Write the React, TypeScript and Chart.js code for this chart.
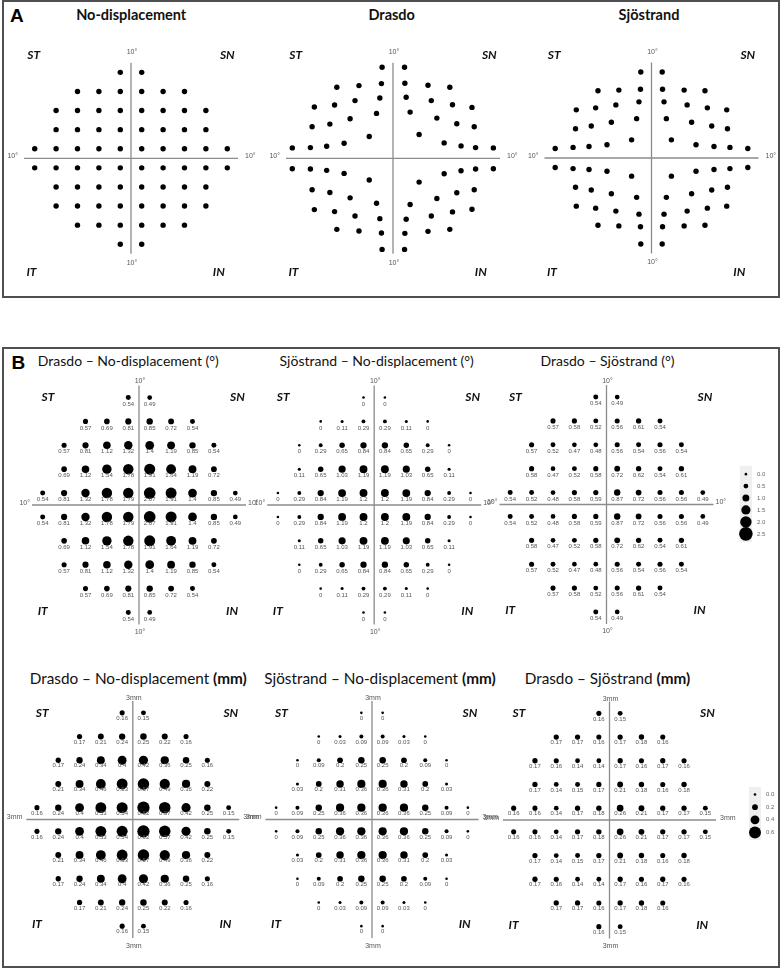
import React, { useEffect, useRef } from "react";
import { Chart, registerables } from "chart.js";

Chart.register(...registerables);

// ---------- DATA ----------
// 10-2 test grid locations (degrees), rows top→bottom, left→right
const GRID_X = [
  -1, 1,
  -5, -3, -1, 1, 3, 5,
  -7, -5, -3, -1, 1, 3, 5, 7,
  -7, -5, -3, -1, 1, 3, 5, 7,
  -9, -7, -5, -3, -1, 1, 3, 5, 7, 9,
  -9, -7, -5, -3, -1, 1, 3, 5, 7, 9,
  -7, -5, -3, -1, 1, 3, 5, 7,
  -7, -5, -3, -1, 1, 3, 5, 7,
  -5, -3, -1, 1, 3, 5,
  -1, 1,
];
const GRID_Y = [
  9, 9,
  7, 7, 7, 7, 7, 7,
  5, 5, 5, 5, 5, 5, 5, 5,
  3, 3, 3, 3, 3, 3, 3, 3,
  1, 1, 1, 1, 1, 1, 1, 1, 1, 1,
  -1, -1, -1, -1, -1, -1, -1, -1, -1, -1,
  -3, -3, -3, -3, -3, -3, -3, -3,
  -5, -5, -5, -5, -5, -5, -5, -5,
  -7, -7, -7, -7, -7, -7,
  -9, -9,
];

// Drasdo-displaced locations (degrees)
const DRASDO_X = [
  -1.02, 1.08,
  -5.25, -3.18, -1.08, 1.11, 3.27, 5.31,
  -7.35, -5.46, -3.55, -1.23, 1.23, 3.58, 5.56, 7.38,
  -7.56, -5.9, -4.01, -1.54, 1.6, 4.1, 5.96, 7.59,
  -9.41, -7.72, -6.2, -4.57, -2.22, 2.44, 4.78, 6.36, 7.72, 9.38,
  -9.41, -7.72, -6.2, -4.57, -2.22, 2.44, 4.78, 6.36, 7.72, 9.38,
  -7.56, -5.9, -4.01, -1.54, 1.6, 4.1, 5.96, 7.59,
  -7.35, -5.46, -3.55, -1.23, 1.23, 3.58, 5.56, 7.38,
  -5.25, -3.18, -1.08, 1.11, 3.27, 5.31,
  -1.02, 1.08,
];
const DRASDO_Y = [
  9.54, 9.54,
  7.44, 7.61, 7.82, 7.86, 7.65, 7.44,
  5.37, 5.58, 6.04, 6.32, 6.39, 6.04, 5.61, 5.33,
  3.3, 3.58, 4.14, 4.7, 4.84, 4.21, 3.61, 3.3,
  1.09, 1.12, 1.26, 1.58, 2.28, 2.49, 1.61, 1.3, 1.12, 1.09,
  -1.09, -1.12, -1.26, -1.58, -2.28, -2.49, -1.61, -1.3, -1.12, -1.09,
  -3.3, -3.58, -4.14, -4.7, -4.84, -4.21, -3.61, -3.3,
  -5.37, -5.58, -6.04, -6.32, -6.39, -6.04, -5.61, -5.33,
  -7.44, -7.61, -7.82, -7.86, -7.65, -7.44,
  -9.54, -9.54,
];

// Sjöstrand-displaced locations (degrees)
const SJOSTRAND_X = [
  -1.0, 1.0,
  -5.0, -3.05, -1.03, 1.03, 3.05, 5.0,
  -7.03, -5.22, -3.33, -1.17, 1.17, 3.33, 5.22, 7.03,
  -7.1, -5.63, -3.75, -1.39, 1.39, 3.75, 5.63, 7.1,
  -9.0, -7.33, -5.84, -4.16, -1.86, 1.86, 4.16, 5.84, 7.33, 9.0,
  -9.0, -7.33, -5.84, -4.16, -1.86, 1.86, 4.16, 5.84, 7.33, 9.0,
  -7.1, -5.63, -3.75, -1.39, 1.39, 3.75, 5.63, 7.1,
  -7.03, -5.22, -3.33, -1.17, 1.17, 3.33, 5.22, 7.03,
  -5.0, -3.05, -1.03, 1.03, 3.05, 5.0,
  -1.0, 1.0,
];
const SJOSTRAND_Y = [
  9.0, 9.0,
  7.04, 7.11, 7.2, 7.2, 7.11, 7.04,
  5.04, 5.25, 5.56, 5.88, 5.88, 5.56, 5.25, 5.04,
  3.07, 3.35, 3.74, 4.12, 4.12, 3.74, 3.35, 3.07,
  1.0, 1.11, 1.21, 1.39, 1.9, 1.9, 1.39, 1.21, 1.11, 1.0,
  -1.0, -1.11, -1.21, -1.39, -1.9, -1.9, -1.39, -1.21, -1.11, -1.0,
  -3.07, -3.35, -3.74, -4.12, -4.12, -3.74, -3.35, -3.07,
  -5.04, -5.25, -5.56, -5.88, -5.88, -5.56, -5.25, -5.04,
  -7.04, -7.11, -7.2, -7.2, -7.11, -7.04,
  -9.0, -9.0,
];

// Displacement differences (degrees)
const DRASDO_VS_NONE_DEG = [
  0.54, 0.49,
  0.57, 0.69, 0.81, 0.85, 0.72, 0.54,
  0.57, 0.81, 1.12, 1.32, 1.4, 1.19, 0.85, 0.54,
  0.69, 1.12, 1.54, 1.78, 1.91, 1.64, 1.19, 0.72,
  0.54, 0.81, 1.32, 1.78, 1.79, 2.07, 1.91, 1.4, 0.85, 0.49,
  0.54, 0.81, 1.32, 1.78, 1.79, 2.07, 1.91, 1.4, 0.85, 0.49,
  0.69, 1.12, 1.54, 1.78, 1.91, 1.64, 1.19, 0.72,
  0.57, 0.81, 1.12, 1.32, 1.4, 1.19, 0.85, 0.54,
  0.57, 0.69, 0.81, 0.85, 0.72, 0.54,
  0.54, 0.49,
];
const SJOSTRAND_VS_NONE_DEG = [
  0, 0,
  0, 0.11, 0.29, 0.29, 0.11, 0,
  0, 0.29, 0.65, 0.84, 0.84, 0.65, 0.29, 0,
  0.11, 0.65, 1.03, 1.19, 1.19, 1.03, 0.65, 0.11,
  0, 0.29, 0.84, 1.19, 1.2, 1.2, 1.19, 0.84, 0.29, 0,
  0, 0.29, 0.84, 1.19, 1.2, 1.2, 1.19, 0.84, 0.29, 0,
  0.11, 0.65, 1.03, 1.19, 1.19, 1.03, 0.65, 0.11,
  0, 0.29, 0.65, 0.84, 0.84, 0.65, 0.29, 0,
  0, 0.11, 0.29, 0.29, 0.11, 0,
  0, 0,
];
const DRASDO_VS_SJOSTRAND_DEG = [
  0.54, 0.49,
  0.57, 0.58, 0.52, 0.56, 0.61, 0.54,
  0.57, 0.52, 0.47, 0.48, 0.56, 0.54, 0.56, 0.54,
  0.58, 0.47, 0.52, 0.58, 0.72, 0.62, 0.54, 0.61,
  0.54, 0.52, 0.48, 0.58, 0.59, 0.87, 0.72, 0.56, 0.56, 0.49,
  0.54, 0.52, 0.48, 0.58, 0.59, 0.87, 0.72, 0.56, 0.56, 0.49,
  0.58, 0.47, 0.52, 0.58, 0.72, 0.62, 0.54, 0.61,
  0.57, 0.52, 0.47, 0.48, 0.56, 0.54, 0.56, 0.54,
  0.57, 0.58, 0.52, 0.56, 0.61, 0.54,
  0.54, 0.49,
];

// Displacement differences (mm)
const DRASDO_VS_NONE_MM = [
  0.16, 0.15,
  0.17, 0.21, 0.24, 0.25, 0.22, 0.16,
  0.17, 0.24, 0.34, 0.4, 0.42, 0.36, 0.25, 0.16,
  0.21, 0.34, 0.46, 0.53, 0.57, 0.49, 0.36, 0.22,
  0.16, 0.24, 0.4, 0.53, 0.54, 0.62, 0.57, 0.42, 0.25, 0.15,
  0.16, 0.24, 0.4, 0.53, 0.54, 0.62, 0.57, 0.42, 0.25, 0.15,
  0.21, 0.34, 0.46, 0.53, 0.57, 0.49, 0.36, 0.22,
  0.17, 0.24, 0.34, 0.4, 0.42, 0.36, 0.25, 0.16,
  0.17, 0.21, 0.24, 0.25, 0.22, 0.16,
  0.16, 0.15,
];
const SJOSTRAND_VS_NONE_MM = [
  0, 0,
  0, 0.03, 0.09, 0.09, 0.03, 0,
  0, 0.09, 0.2, 0.25, 0.25, 0.2, 0.09, 0,
  0.03, 0.2, 0.31, 0.36, 0.36, 0.31, 0.2, 0.03,
  0, 0.09, 0.25, 0.36, 0.36, 0.36, 0.36, 0.25, 0.09, 0,
  0, 0.09, 0.25, 0.36, 0.36, 0.36, 0.36, 0.25, 0.09, 0,
  0.03, 0.2, 0.31, 0.36, 0.36, 0.31, 0.2, 0.03,
  0, 0.09, 0.2, 0.25, 0.25, 0.2, 0.09, 0,
  0, 0.03, 0.09, 0.09, 0.03, 0,
  0, 0,
];
const DRASDO_VS_SJOSTRAND_MM = [
  0.16, 0.15,
  0.17, 0.17, 0.16, 0.17, 0.18, 0.16,
  0.17, 0.16, 0.14, 0.14, 0.17, 0.16, 0.17, 0.16,
  0.17, 0.14, 0.15, 0.17, 0.21, 0.18, 0.16, 0.18,
  0.16, 0.16, 0.14, 0.17, 0.18, 0.26, 0.21, 0.17, 0.17, 0.15,
  0.16, 0.16, 0.14, 0.17, 0.18, 0.26, 0.21, 0.17, 0.17, 0.15,
  0.17, 0.14, 0.15, 0.17, 0.21, 0.18, 0.16, 0.18,
  0.17, 0.16, 0.14, 0.14, 0.17, 0.16, 0.17, 0.16,
  0.17, 0.17, 0.16, 0.17, 0.18, 0.16,
  0.16, 0.15,
];

const DEG_LEGEND = [0, 0.5, 1, 1.5, 2, 2.5];
const DEG_LEGEND_LABELS = ["0.0", "0.5", "1.0", "1.5", "2.0", "2.5"];
const MM_LEGEND = [0, 0.2, 0.4, 0.6];
const MM_LEGEND_LABELS = ["0.0", "0.2", "0.4", "0.6"];

const A_TITLES = ["No-displacement", "Drasdo", "Sjöstrand"];
const B_TITLES_DEG = ["Drasdo – No-displacement", "Sjöstrand – No-displacement", "Drasdo – Sjöstrand"];
const B_TITLES_MM = ["Drasdo – No-displacement", "Sjöstrand – No-displacement", "Drasdo – Sjöstrand"];
const QUADRANTS = ["ST", "SN", "IT", "IN"];
const AXIS_LABEL_DEG = "10°";
const AXIS_LABEL_MM = "3mm";

// ---------- STYLE / LAYOUT ----------
const degRadius = (v: number) => 1.3 + 2.2 * v;
const mmRadius = (v: number) => 1.3 + 7.8 * v;

const LABEL_FONT = "Lato, 'Open Sans', sans-serif";

type Spec = {
  key: string;
  kind: "scatter" | "bubble";
  xs: number[];
  ys: number[];
  values?: number[];
  radius?: (v: number) => number;
  cx: number;
  cy: number;
  sx: number;
  sy: number;
  axisLabel: string;
  gaps: { top: number; bottom: number; left: number; right: number };
  quad: number[][]; // data coords for ST, SN, IT, IN
  valueOffset?: number;
};

const A_QUAD = [[-9.1, 10.8], [9.0, 10.8], [-9.3, -11.9], [8.2, -11.9]];
const B_QUAD = [[-8.5, 9.0], [9.2, 9.0], [-9.0, -8.85], [8.7, -8.85]];
const A_GAPS = { top: 7, bottom: 5.5, left: 6, right: 7 };
const BD_GAPS = { top: 1, bottom: 4, left: 2, right: 2 };
const BM_GAPS = { top: -1, bottom: 4.5, left: 4, right: 4 };

const A_SX = 10.7, A_SY = 9.55;
const BD_SX = 10.7, BD_SY = 11.94;
const BM_SX = 10.65, BM_SY = 11.85;

const SPECS: Spec[] = [
  { key: "a1", kind: "scatter", xs: GRID_X, ys: GRID_Y, cx: 131, cy: 158.3, sx: A_SX, sy: A_SY, axisLabel: AXIS_LABEL_DEG, gaps: A_GAPS, quad: A_QUAD },
  { key: "a2", kind: "scatter", xs: DRASDO_X, ys: DRASDO_Y, cx: 393, cy: 158.3, sx: A_SX, sy: A_SY, axisLabel: AXIS_LABEL_DEG, gaps: A_GAPS, quad: A_QUAD },
  { key: "a3", kind: "scatter", xs: SJOSTRAND_X, ys: SJOSTRAND_Y, cx: 651.5, cy: 158, sx: A_SX, sy: A_SY, axisLabel: AXIS_LABEL_DEG, gaps: A_GAPS, quad: A_QUAD },
  { key: "b1", kind: "bubble", xs: GRID_X, ys: GRID_Y, values: DRASDO_VS_NONE_DEG, radius: degRadius, cx: 139, cy: 505, sx: BD_SX, sy: BD_SY, axisLabel: AXIS_LABEL_DEG, gaps: BD_GAPS, quad: B_QUAD, valueOffset: 6.5 },
  { key: "b2", kind: "bubble", xs: GRID_X, ys: GRID_Y, values: SJOSTRAND_VS_NONE_DEG, radius: degRadius, cx: 374.2, cy: 505, sx: BD_SX, sy: BD_SY, axisLabel: AXIS_LABEL_DEG, gaps: BD_GAPS, quad: B_QUAD, valueOffset: 6.5 },
  { key: "b3", kind: "bubble", xs: GRID_X, ys: GRID_Y, values: DRASDO_VS_SJOSTRAND_DEG, radius: degRadius, cx: 606.5, cy: 504.5, sx: BD_SX, sy: BD_SY, axisLabel: AXIS_LABEL_DEG, gaps: BD_GAPS, quad: B_QUAD, valueOffset: 6.5 },
  { key: "b4", kind: "bubble", xs: GRID_X, ys: GRID_Y, values: DRASDO_VS_NONE_MM, radius: mmRadius, cx: 132.8, cy: 819.5, sx: BM_SX, sy: BM_SY, axisLabel: AXIS_LABEL_MM, gaps: BM_GAPS, quad: B_QUAD, valueOffset: 5.5 },
  { key: "b5", kind: "bubble", xs: GRID_X, ys: GRID_Y, values: SJOSTRAND_VS_NONE_MM, radius: mmRadius, cx: 372, cy: 819.5, sx: BM_SX, sy: BM_SY, axisLabel: AXIS_LABEL_MM, gaps: BM_GAPS, quad: B_QUAD, valueOffset: 5.5 },
  { key: "b6", kind: "bubble", xs: GRID_X, ys: GRID_Y, values: DRASDO_VS_SJOSTRAND_MM, radius: mmRadius, cx: 609.5, cy: 820, sx: BM_SX, sy: BM_SY, axisLabel: AXIS_LABEL_MM, gaps: BM_GAPS, quad: B_QUAD, valueOffset: 5.5 },
];

const MARGIN_X = 130;
const MARGIN_Y = 136;

function makeOverlay(spec: Spec) {
  return {
    id: "overlay_" + spec.key,
    beforeDatasetsDraw(chart: any) {
      const { ctx } = chart;
      const x = chart.scales.x, y = chart.scales.y;
      ctx.save();
      ctx.strokeStyle = "#8c8c8c";
      ctx.lineWidth = 1.3;
      ctx.beginPath();
      ctx.moveTo(x.getPixelForValue(-10), y.getPixelForValue(0));
      ctx.lineTo(x.getPixelForValue(10), y.getPixelForValue(0));
      ctx.moveTo(x.getPixelForValue(0), y.getPixelForValue(10));
      ctx.lineTo(x.getPixelForValue(0), y.getPixelForValue(-10));
      ctx.stroke();
      ctx.restore();
    },
    afterDatasetsDraw(chart: any) {
      const { ctx } = chart;
      const x = chart.scales.x, y = chart.scales.y;
      const x0 = x.getPixelForValue(0), y0 = y.getPixelForValue(0);
      const left = x.getPixelForValue(-10), right = x.getPixelForValue(10);
      const top = y.getPixelForValue(10), bottom = y.getPixelForValue(-10);
      ctx.save();
      // axis end labels
      ctx.fillStyle = "#555";
      ctx.font = "7px 'Liberation Sans', Arial, sans-serif";
      ctx.textAlign = "center";
      ctx.textBaseline = "bottom";
      ctx.fillText(spec.axisLabel, x0 + 1, top - spec.gaps.top);
      ctx.textBaseline = "top";
      ctx.fillText(spec.axisLabel, x0 + 1, bottom + spec.gaps.bottom);
      ctx.textBaseline = "middle";
      ctx.textAlign = "right";
      ctx.fillText(spec.axisLabel, left - spec.gaps.left, y0 - 2);
      ctx.textAlign = "left";
      ctx.fillText(spec.axisLabel, right + spec.gaps.right, y0 - 2);
      // quadrant labels
      ctx.fillStyle = "#111";
      ctx.font = `italic bold 12px ${LABEL_FONT}`;
      ctx.textAlign = "center";
      ctx.textBaseline = "middle";
      QUADRANTS.forEach((q, i) => {
        ctx.fillText(q, x.getPixelForValue(spec.quad[i][0]), y.getPixelForValue(spec.quad[i][1]));
      });
      // value labels
      if (spec.values) {
        ctx.fillStyle = "#555";
        ctx.font = "6px 'Liberation Sans', Arial, sans-serif";
        ctx.textAlign = "center";
        ctx.textBaseline = "middle";
        spec.values.forEach((v, i) => {
          const px = x.getPixelForValue(spec.xs[i]);
          const py = y.getPixelForValue(spec.ys[i]);
          ctx.fillText(String(v), px, py + (spec.valueOffset || 6));
        });
      }
      ctx.restore();
    },
  };
}

function PlotCanvas({ spec }: { spec: Spec }) {
  const ref = useRef<HTMLCanvasElement | null>(null);
  const boxLeft = Math.round(spec.cx - MARGIN_X);
  const boxTop = Math.round(spec.cy - MARGIN_Y);
  const w = 2 * MARGIN_X;
  const h = 2 * MARGIN_Y;
  useEffect(() => {
    const areaL = spec.cx - 10 * spec.sx - boxLeft;
    const areaR = boxLeft + w - (spec.cx + 10 * spec.sx);
    const areaT = spec.cy - 10 * spec.sy - boxTop;
    const areaB = boxTop + h - (spec.cy + 10 * spec.sy);
    const data =
      spec.kind === "bubble"
        ? spec.xs.map((xv, i) => ({ x: xv, y: spec.ys[i], r: spec.radius!(spec.values![i]) }))
        : spec.xs.map((xv, i) => ({ x: xv, y: spec.ys[i] }));
    const dataset: any =
      spec.kind === "bubble"
        ? { data, backgroundColor: "#000", borderWidth: 0, hoverRadius: 0, clip: false }
        : { data, backgroundColor: "#000", pointBackgroundColor: "#000", pointBorderWidth: 0, pointRadius: 2.7, showLine: false, clip: false };
    const chart = new Chart(ref.current!, {
      type: spec.kind,
      data: { datasets: [dataset] },
      options: {
        responsive: false,
        animation: false,
        events: [],
        layout: { padding: { left: areaL, right: areaR, top: areaT, bottom: areaB } },
        scales: {
          x: { type: "linear", min: -10, max: 10, display: false },
          y: { type: "linear", min: -10, max: 10, display: false },
        },
        plugins: { legend: { display: false }, tooltip: { enabled: false }, title: { display: false } },
      } as any,
      plugins: [makeOverlay(spec)],
    } as any);
    return () => chart.destroy();
  }, []);
  return (
    <canvas
      ref={ref}
      width={w}
      height={h}
      style={{ position: "absolute", left: boxLeft, top: boxTop, width: w, height: h }}
    />
  );
}

type LegendSpec = {
  key: string;
  values: number[];
  labels: string[];
  radius: (v: number) => number;
  left: number;
  right: number;
  firstY: number;
  step: number;
  padTop: number;
  padBottom: number;
};

const LEGENDS: LegendSpec[] = [
  { key: "ldeg", values: DEG_LEGEND, labels: DEG_LEGEND_LABELS, radius: degRadius, left: 737, right: 752, firstY: 471.5, step: 13, padTop: 0.7, padBottom: 0.7 },
  { key: "lmm", values: MM_LEGEND, labels: MM_LEGEND_LABELS, radius: mmRadius, left: 747, right: 761, firstY: 793, step: 13.7, padTop: 0.6, padBottom: 0.6 },
];

function LegendCanvas({ spec }: { spec: LegendSpec }) {
  const ref = useRef<HTMLCanvasElement | null>(null);
  const n = spec.values.length;
  const areaTop = spec.firstY - spec.padTop * spec.step;
  const areaBottom = spec.firstY + (n - 1 + spec.padBottom) * spec.step;
  const boxLeft = spec.left - 4;
  const boxTop = Math.floor(areaTop - 3);
  const w = 782 - boxLeft;
  const h = Math.ceil(areaBottom + 3) - boxTop;
  useEffect(() => {
    const chart = new Chart(ref.current!, {
      type: "bubble",
      data: {
        datasets: [
          {
            data: spec.values.map((v, i) => ({ x: 0, y: i, r: spec.radius(v) })),
            backgroundColor: "#000",
            borderWidth: 0,
            clip: false,
          },
        ],
      },
      options: {
        responsive: false,
        animation: false,
        events: [],
        layout: {
          padding: {
            left: spec.left - boxLeft,
            right: boxLeft + w - spec.right,
            top: areaTop - boxTop,
            bottom: boxTop + h - areaBottom,
          },
        },
        scales: {
          x: { type: "linear", min: -1, max: 1, display: false },
          y: { type: "linear", min: -spec.padTop, max: n - 1 + spec.padBottom, reverse: true, display: false },
        },
        plugins: { legend: { display: false }, tooltip: { enabled: false } },
      } as any,
      plugins: [
        {
          id: "legendbox_" + spec.key,
          beforeDatasetsDraw(chart: any) {
            const { ctx, chartArea } = chart;
            ctx.save();
            ctx.fillStyle = "#efefef";
            ctx.fillRect(chartArea.left, chartArea.top, chartArea.right - chartArea.left, chartArea.bottom - chartArea.top);
            ctx.restore();
          },
          afterDatasetsDraw(chart: any) {
            const { ctx, chartArea } = chart;
            const y = chart.scales.y;
            ctx.save();
            ctx.fillStyle = "#666";
            ctx.font = "6px 'Liberation Sans', Arial, sans-serif";
            ctx.textAlign = "left";
            ctx.textBaseline = "middle";
            spec.labels.forEach((t, i) => ctx.fillText(t, chartArea.right + 5, y.getPixelForValue(i)));
            ctx.restore();
          },
        },
      ],
    } as any);
    return () => chart.destroy();
  }, []);
  return (
    <canvas
      ref={ref}
      width={w}
      height={h}
      style={{ position: "absolute", left: boxLeft, top: boxTop, width: w, height: h }}
    />
  );
}

const titleStyle = (cx: number, top: number, size: number, weight: number): React.CSSProperties => ({
  position: "absolute",
  left: cx - 160,
  width: 320,
  top,
  textAlign: "center",
  fontFamily: LABEL_FONT,
  fontSize: size,
  fontWeight: weight,
  lineHeight: 1,
  color: "#111",
  whiteSpace: "nowrap",
});

export default function App() {
  const aCenters = [131.2, 391.7, 649];
  const bCentersDeg = [128.3, 376.7, 607.5];
  const bCentersMm = [138.3, 380, 607.5];
  return (
    <div style={{ position: "absolute", left: 0, top: 0, width: 782, height: 977, background: "#fff", overflow: "hidden" }}>
      <div style={{ position: "absolute", left: 2, top: 0, width: 778, height: 298, border: "2px solid #505050", boxSizing: "border-box" }} />
      <div style={{ position: "absolute", left: 2, top: 347, width: 778, height: 621, border: "2px solid #505050", boxSizing: "border-box" }} />
      <div style={{ position: "absolute", left: 10, top: 5.5, fontFamily: "'Liberation Sans', Arial, sans-serif", fontWeight: 700, fontSize: 19, lineHeight: 1 }}>A</div>
      <div style={{ position: "absolute", left: 11.5, top: 352.5, fontFamily: "'Liberation Sans', Arial, sans-serif", fontWeight: 700, fontSize: 19, lineHeight: 1 }}>B</div>
      {A_TITLES.map((t, i) => (
        <div key={"at" + i} style={titleStyle(aCenters[i], 7.5, 14.5, 700)}>{t}</div>
      ))}
      {B_TITLES_DEG.map((t, i) => (
        <div key={"bt" + i} style={titleStyle(bCentersDeg[i], 354.3, 14, 400)}>
          {t} <span>(°)</span>
        </div>
      ))}
      {B_TITLES_MM.map((t, i) => (
        <div key={"bm" + i} style={titleStyle(bCentersMm[i], 670.5, 15.3, 400)}>
          {t} <span style={{ fontWeight: 700 }}>(mm)</span>
        </div>
      ))}
      {SPECS.map((s) => (
        <PlotCanvas key={s.key} spec={s} />
      ))}
      {LEGENDS.map((l) => (
        <LegendCanvas key={l.key} spec={l} />
      ))}
    </div>
  );
}
